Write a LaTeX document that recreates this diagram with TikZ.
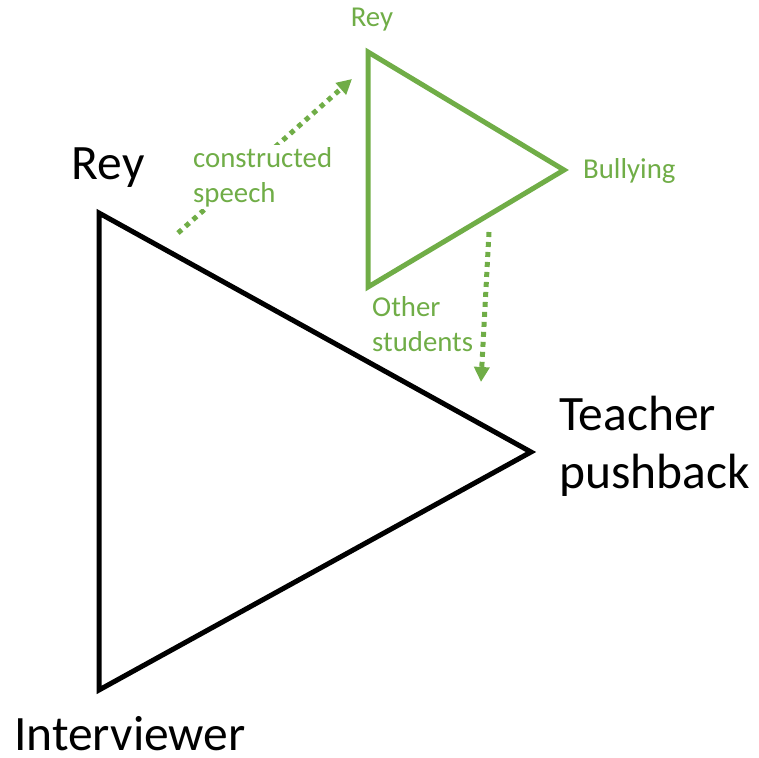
\documentclass[tikz,border=0pt]{standalone}
\usepackage{fontspec}
\setmainfont{Carlito}
\usetikzlibrary{arrows.meta}
\definecolor{leafgreen}{HTML}{70AD47}
\tikzset{
  bigtext/.style={inner sep=0pt, align=left, font=\fontsize{49.5}{58}\selectfont},
  smalltext/.style={inner sep=0pt, align=left, text=leafgreen, font=\fontsize{28.8}{35.5}\selectfont},
  frame/.style={line width=5pt},
  hop/.style={leafgreen, line width=5pt, dash pattern=on 5pt off 5pt,
    -{Triangle[length=15pt,width=15pt]}}
}
\begin{document}
\begin{tikzpicture}[x=1pt,y=-1pt]
    \useasboundingbox (0,0) rectangle (759,757);
    % outer triangle
    \coordinate (top) at (99,213);
    \coordinate (bottom) at (99,690);
    \coordinate (tip) at (531,452);
    % inner triangle
    \coordinate (gtop) at (368,52);
    \coordinate (gbottom) at (368,287);
    \coordinate (gtip) at (564,170);
    % arrow ends
    \coordinate (a1) at (178,233);
    \coordinate (a2) at (352,79);
    \coordinate (b1) at (489,232);
    \coordinate (b2) at (481,382);

    \draw[frame] (top) -- (tip) -- (bottom) -- cycle;
    \draw[frame, leafgreen] (gtop) -- (gtip) -- (gbottom) -- cycle;

    \path (a1) [hop] edge (a2)
          (b1) [hop] edge (b2);

    \node[bigtext, anchor=base] (rey) at (108,179) {Rey};
    \node[bigtext, anchor=north west] (teacher) at (559,396) {Teacher\\pushback};
    \node[bigtext, anchor=base west] (interviewer) at (14,750) {Interviewer};

    \node[smalltext, anchor=base] (grey) at (372,27) {Rey};
    \node[smalltext, anchor=base west] (bullying) at (583,178) {Bullying};
    \node[smalltext, anchor=north west] (others) at (372,296) {Other\\students};
    \node[smalltext, anchor=north west, fill=white, inner sep=2pt] (speech) at (191,145) {constructed\\speech};
\end{tikzpicture}
\end{document}
